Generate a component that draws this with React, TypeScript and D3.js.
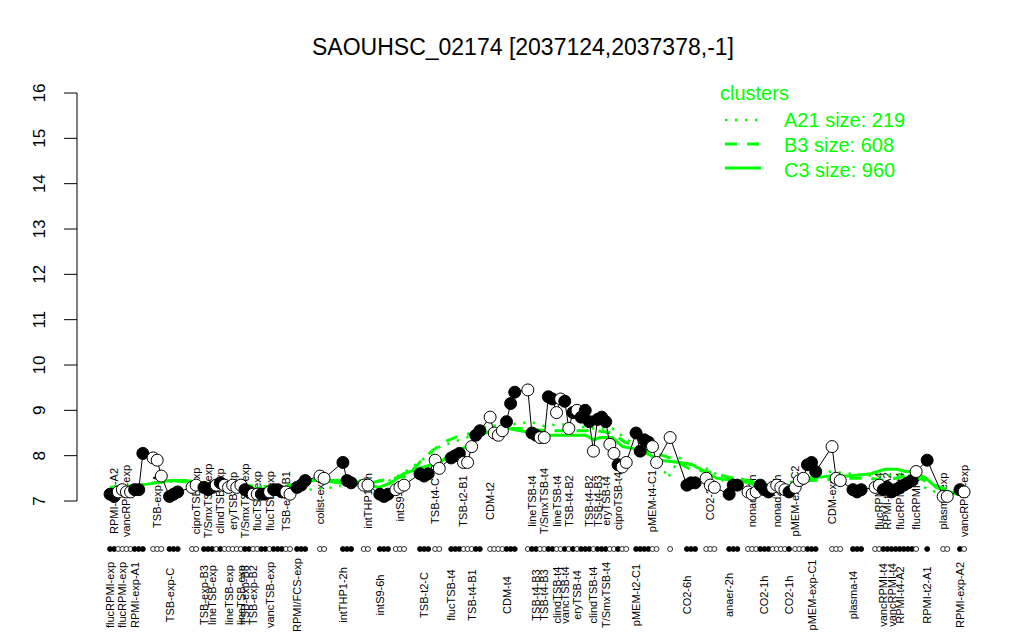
import React from 'react';
import * as d3 from 'd3';

// ---------- data ----------
const titleText = 'SAOUHSC_02174 [2037124,2037378,-1]';
const yTicks = [7, 8, 9, 10, 11, 12, 13, 14, 15, 16];

// sample groups: start position (sample slot units) and per-sample values / filled flags
const groupStart = [0.5, 11, 15, 20.5, 23.4, 43.4, 46.1, 51.7, 57.3, 62.4, 66.3, 70.2, 76.1, 79.8, 83.7, 93.2, 102.4, 128.8, 137.1, 141.2, 145.9, 151.5, 156.1, 167.6, 176.6, 181.7, 187.1, 199.8, 203.7, 207.8];
const groupValues: number[][] = [
  [7.15, 7.1, 7.2, 7.25, 7.2, 7.2, 7.25, 7.25, 8.05],
  [7.95, 7.9, 7.55],
  [7.1, 7.15, 7.2],
  [7.3, 7.35],
  [7.3, 7.25, 7.3, 7.35, 7.4, 7.35, 7.3, 7.35, 7.3, 7.35, 7.25, 7.2, 7.15, 7.15, 7.15, 7.15, 7.2, 7.25, 7.25, 7.2],
  [7.2, 7.15],
  [7.3, 7.35, 7.45],
  [7.55, 7.5],
  [7.85, 7.45, 7.4],
  [7.35, 7.35],
  [7.15, 7.1, 7.15],
  [7.25, 7.3, 7.35],
  [7.6, 7.55, 7.6],
  [7.9, 7.72],
  [7.95, 8.0, 8.05, 7.85, 7.85, 8.2, 8.45, 8.55],
  [8.85, 8.5, 8.45, 8.55, 8.75, 9.15, 9.4],
  [9.45, 8.5, 8.45, 8.4, 8.4, 9.3, 9.25, 8.95, 9.25, 9.2, 8.6, 8.95, 9.0, 8.85, 9.0, 8.75, 8.1, 8.8, 8.85, 8.75, 8.25, 8.05, 7.8, 7.75, 7.85],
  [8.5, 8.1, 8.35, 8.3, 8.2, 7.85],
  [8.4],
  [7.35, 7.4, 7.4],
  [7.5, 7.35, 7.3],
  [7.15, 7.35, 7.35],
  [7.2, 7.15, 7.2, 7.35, 7.25, 7.2, 7.3, 7.35, 7.3, 7.25, 7.2],
  [7.3, 7.45, 7.5, 7.8, 7.85, 7.65],
  [8.2, 7.5, 7.45],
  [7.25, 7.2, 7.25],
  [7.3, 7.35, 7.25, 7.3, 7.2, 7.25, 7.3, 7.35, 7.4, 7.45, 7.65],
  [7.9],
  [7.1, 7.1],
  [7.25, 7.2],
];
const groupFilled = [
  '110000111', '000', '111', '00', '11101000001100110111', '00', '111', '00', '111', '00', '111', '000', '111', '00',
  '11100011', '0000111', '0110011001010111011100100', '111100', '0', '111', '000', '111', '00011100001', '000111',
  '000', '111', '00111111110', '1', '00', '10',
];

// labels: [group, index in group, text]
const topLabels: [number, number, string][] = [
  [0, 1, 'RPMI-exp-A2'], [0, 4, 'vancRPMI-exp'], [1, 1, 'TSB-exp-A'], [3, 1, 'ciproTSB-exp'],
  [4, 1, 'T/SmxTSB-exp'], [4, 4, 'clindTSB-exp'], [4, 7, 'eryTSB-exp'], [4, 10, 'T/SmxTSB-exp'],
  [4, 13, 'flucTSB-exp'], [4, 16, 'flucTSB-exp'], [5, 0, 'TSB-exp-B1'], [7, 0, 'colist-exp'],
  [9, 1, 'intTHP1-2h'], [11, 1, 'intS9-6h'], [13, 0, 'TSB-t4-C'], [14, 3, 'TSB-t2-B1'], [15, 0, 'CDM-t2'],
  [16, 1, 'lineTSB-t4'], [16, 4, 'T/SmxTSB-t4'], [16, 7, 'lineTSB-t4'], [16, 10, 'TSB-t4-B2'],
  [16, 15, 'TSB-t4-B2'], [16, 17, 'TSB-t4-B3'], [16, 19, 'eryTSB-t4'], [16, 22, 'ciproTSB-t4'],
  [17, 4, 'pMEM-t4-C1'], [20, 1, 'CO2-2h'], [22, 1, 'nonad2-1h'], [22, 7, 'nonad2-1h'],
  [23, 0, 'pMEM-exp-C2'], [24, 0, 'CDM-exp'], [26, 1, 'flucRPMI-t4'], [26, 3, 'RPMI-t4-A2'],
  [26, 6, 'flucRPMI-t4'], [26, 10, 'flucRPMI-t4'], [28, 0, 'plasma-exp'], [29, 1, 'vancRPMI-exp'],
];
const bottomLabels: [number, number, string][] = [
  [0, 0, 'flucRPMI-exp'], [0, 3, 'flucRPMI-exp'], [0, 6, 'RPMI-exp-A1'], [2, 0, 'TSB-exp-C'],
  [4, 0, 'TSB-exp-B3'], [4, 2, 'lineTSB-exp'], [4, 6, 'lineTSB-exp'], [4, 9, 'lineTSB-exp'],
  [4, 10, 'TSB-exp-B3'], [4, 12, 'TSB-exp-B2'], [4, 16, 'vancTSB-exp'], [6, 0, 'RPMI/FCS-exp'],
  [8, 0, 'intTHP1-2h'], [10, 0, 'intS9-6h'], [12, 1, 'TSB-t2-C'], [14, 0, 'flucTSB-t4'],
  [14, 5, 'TSB-t4-B1'], [15, 4, 'CDM-t4'], [16, 2, 'TSB-t4-B3'], [16, 4, 'TSB-t4-B3'],
  [16, 7, 'clindTSB-t4'], [16, 9, 'vancTSB-t4'], [16, 12, 'eryTSB-t4'], [16, 16, 'clindTSB-t4'],
  [16, 19, 'T/SmxTSB-t4'], [17, 0, 'pMEM-t2-C1'], [19, 0, 'CO2-6h'], [21, 0, 'anaer-2h'],
  [22, 4, 'CO2-1h'], [22, 10, 'CO2-1h'], [23, 4, 'pMEM-exp-C1'], [25, 0, 'plasma-t4'],
  [26, 2, 'vancRPMI-t4'], [26, 4, 'vancRPMI-t4'], [26, 6, 'RPMI-t4-A2'], [27, 0, 'RPMI-t2-A1'],
  [29, 0, 'RPMI-exp-A2'],
];

// cluster profile lines
const c3Pos = [0.5, 8, 11.5, 15, 19, 22.5, 26, 32, 39.5, 44.5, 48, 51.5, 56.5, 61.5, 66, 69, 72, 77, 81, 84.5, 87.5, 90.5, 95, 97.5, 100.5, 104, 108, 111.5, 116.5, 118.5, 120, 123, 125.5, 128.5, 131.5, 134.5, 139.5, 142.5, 145.5, 148.5, 153, 156.5, 159, 162.5, 165, 169, 171, 176, 181, 186, 189.5, 192.5, 194.5, 196.5, 199.5, 202, 207, 208.8];
const c3Val = [7.3, 7.35, 7.4, 7.45, 7.45, 7.4, 7.3, 7.3, 7.25, 7.3, 7.45, 7.45, 7.4, 7.4, 7.3, 7.4, 7.6, 7.75, 7.85, 8.1, 8.2, 8.45, 8.6, 8.6, 8.55, 8.5, 8.45, 8.45, 8.45, 8.35, 8.4, 8.4, 8.2, 8.15, 8.05, 7.9, 7.85, 7.8, 7.65, 7.5, 7.45, 7.4, 7.3, 7.2, 7.3, 7.4, 7.5, 7.55, 7.55, 7.6, 7.7, 7.7, 7.65, 7.65, 7.5, 7.3, 7.15, 7.2];
const b3Pos = [0.5, 8, 15, 22.5, 32, 42, 49, 56.5, 64, 69.5, 73, 76, 79, 82, 86, 89.5, 93, 97.5, 102, 107, 112, 119, 123, 126, 132, 137, 142, 146, 152.5, 156.5, 162, 166.5, 171, 181, 186, 189.5, 194.5, 198, 203, 207, 208.8];
const b3Val = [7.3, 7.35, 7.45, 7.4, 7.35, 7.3, 7.45, 7.45, 7.4, 7.5, 7.55, 7.85, 8.1, 8.3, 8.45, 8.5, 8.55, 8.6, 8.6, 8.55, 8.55, 8.55, 8.5, 8.3, 8.1, 7.95, 7.7, 7.65, 7.5, 7.45, 7.25, 7.3, 7.45, 7.5, 7.5, 7.45, 7.55, 7.5, 7.3, 7.2, 7.2];
const a21Pos = [0.5, 8, 17.5, 30, 42, 49, 55, 61.5, 69, 73.5, 81, 87.5, 92.5, 100, 103, 106.5, 110, 118.5, 123, 127.5, 130.5, 134.5, 136.5, 139.5, 143, 147, 150, 154, 161.5, 169, 176, 181, 188, 194.5, 200, 204, 207, 208.8];
const a21Val = [7.3, 7.35, 7.45, 7.35, 7.3, 7.25, 7.3, 7.45, 7.45, 7.7, 8.2, 8.4, 8.65, 8.7, 8.75, 8.65, 8.7, 8.6, 8.6, 8.3, 8.05, 7.9, 7.5, 7.95, 7.75, 7.7, 7.45, 7.5, 7.35, 7.45, 7.65, 7.6, 7.55, 7.6, 7.25, 7.15, 7.2, 7.2];

const legendItems = [
  { name: 'A21 size: 219', dash: '2.5 7.5', width: 2.5 },
  { name: 'B3 size: 608', dash: '12 10', width: 3 },
  { name: 'C3 size: 960', dash: null as string | null, width: 3 },
];

const GREEN = '#00ff00';
const FONT = "'Liberation Sans', Arial, Helvetica, sans-serif";

export default function App() {
  const x = d3.scaleLinear().domain([0, 210]).range([108, 969]);
  const y = d3.scaleLinear().domain([7, 16]).range([501, 93]);

  const samples = groupStart.flatMap((s, g) =>
    groupValues[g].map((v, k) => ({ pos: s + k, v, filled: groupFilled[g][k] === '1' }))
  );
  const posOf = (g: number, k: number) => groupStart[g] + k;

  const profile = d3
    .line<{ pos: number; v: number }>()
    .x((d) => x(d.pos))
    .y((d) => y(d.v));
  const cluster = (pos: number[], val: number[]) =>
    d3
      .line<number>()
      .x((_, i) => x(pos[i]))
      .y((d) => y(d))(val) || '';

  const dotRowY = 549;
  const topLabelY = y(7);
  const bottomLabelY = 595;

  return (
    <svg
      width={1024}
      height={640}
      style={{ position: 'absolute', left: 0, top: 0, background: '#fff' }}
      fontFamily={FONT}
    >
      <rect x={0} y={0} width={1024} height={640} fill="#fff" />
      <text x={523} y={55} textAnchor="middle" fontSize={23}>
        {titleText}
      </text>

      {/* y axis */}
      <line x1={77} x2={77} y1={y(7)} y2={y(16)} stroke="#000" strokeWidth={1} />
      {yTicks.map((t) => (
        <g key={t}>
          <line x1={64} x2={77} y1={y(t)} y2={y(t)} stroke="#000" strokeWidth={1} />
          <text
            transform={`translate(39,${y(t)}) rotate(-90)`}
            textAnchor="middle"
            dominantBaseline="central"
            fontSize={17}
          >
            {t}
          </text>
        </g>
      ))}

      {/* top (in-plot) labels */}
      {topLabels.map(([g, k, t], i) => (
        <text
          key={'t' + i}
          transform={`translate(${x(posOf(g, k))},${topLabelY}) rotate(-90)`}
          textAnchor="middle"
          dominantBaseline="central"
          fontSize={11}
        >
          {t}
        </text>
      ))}

      {/* cluster lines */}
      <path d={cluster(a21Pos, a21Val)} fill="none" stroke={GREEN} strokeWidth={2.5} strokeDasharray="2.5 7.5" />
      <path d={cluster(b3Pos, b3Val)} fill="none" stroke={GREEN} strokeWidth={3} strokeDasharray="12 10" />
      <path d={cluster(c3Pos, c3Val)} fill="none" stroke={GREEN} strokeWidth={3} />

      {/* gene profile */}
      <path d={profile(samples) || ''} fill="none" stroke="#000" strokeWidth={1} />
      {samples.map((d, i) => (
        <circle
          key={'p' + i}
          cx={x(d.pos)}
          cy={y(d.v)}
          r={6}
          fill={d.filled ? '#000' : '#fff'}
          stroke="#000"
          strokeWidth={1}
        />
      ))}

      {/* dot row */}
      {samples.map((d, i) => (
        <circle
          key={'r' + i}
          cx={x(d.pos)}
          cy={dotRowY}
          r={2.5}
          fill={d.filled ? '#000' : '#fff'}
          stroke="#000"
          strokeWidth={0.8}
        />
      ))}

      {/* bottom labels */}
      {bottomLabels.map(([g, k, t], i) => (
        <text
          key={'b' + i}
          transform={`translate(${x(posOf(g, k))},${bottomLabelY}) rotate(-90)`}
          textAnchor="middle"
          dominantBaseline="central"
          fontSize={11}
        >
          {t}
        </text>
      ))}

      {/* legend */}
      <text x={720} y={100} fontSize={20} fill={GREEN}>
        clusters
      </text>
      {legendItems.map((it, i) => (
        <g key={it.name}>
          <line
            x1={725}
            x2={761}
            y1={120 + i * 24}
            y2={120 + i * 24}
            stroke={GREEN}
            strokeWidth={it.width}
            strokeDasharray={it.dash || undefined}
          />
          <text x={784} y={127 + i * 25} fontSize={20} fill={GREEN}>
            {it.name}
          </text>
        </g>
      ))}
    </svg>
  );
}
